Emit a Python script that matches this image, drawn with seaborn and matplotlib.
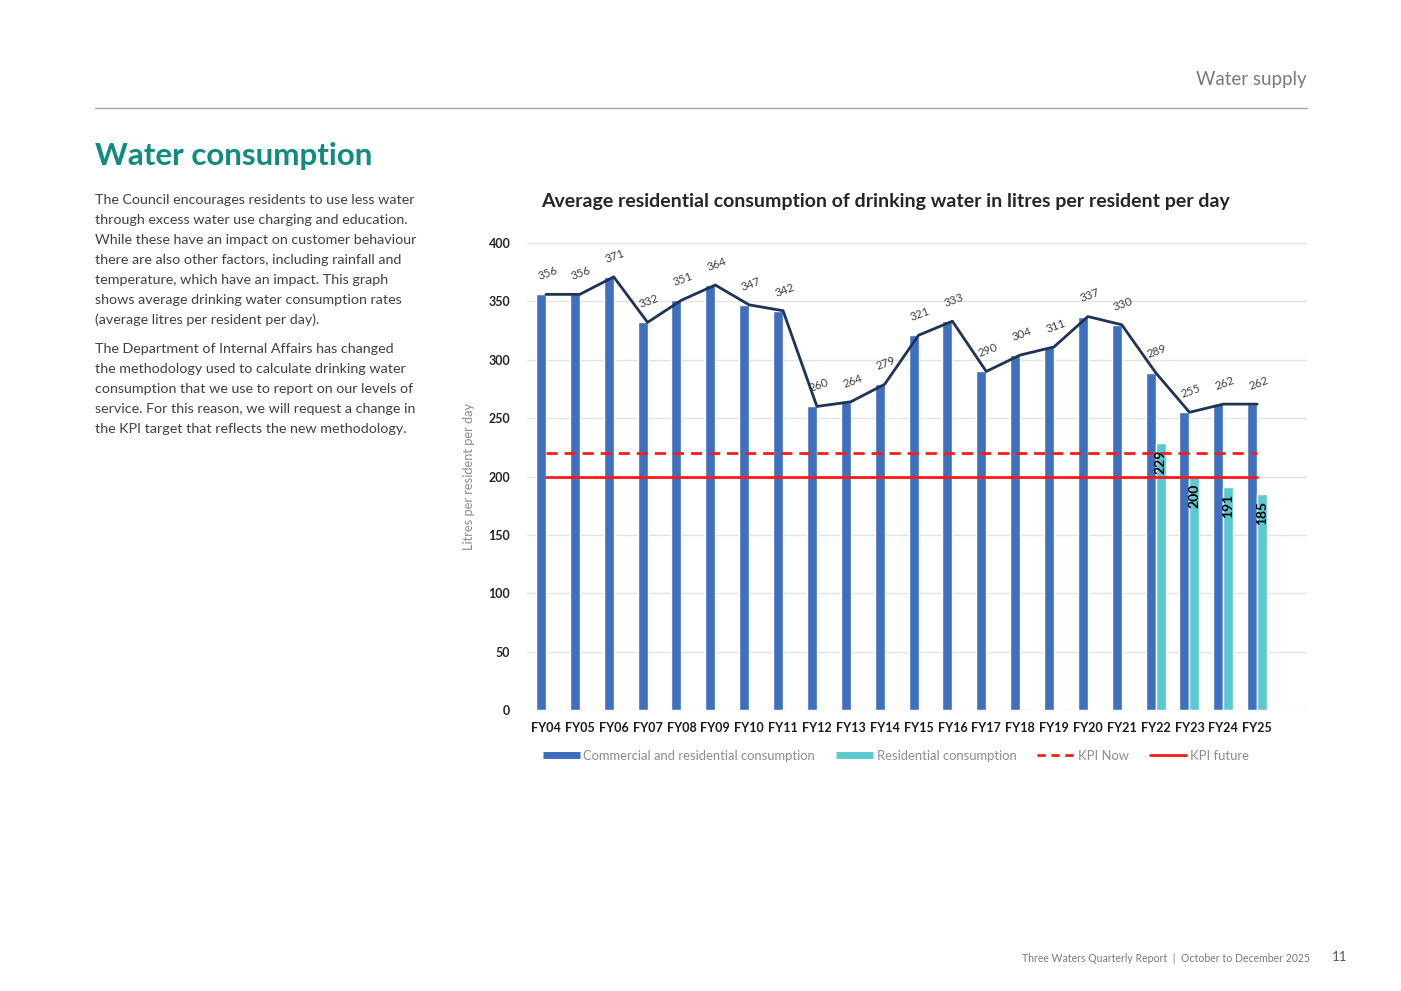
import matplotlib
matplotlib.use("Agg")
import matplotlib.pyplot as plt
from matplotlib.lines import Line2D
import seaborn as sns
import pandas as pd
import numpy as np

# ---------------- data ----------------
years = ["FY04", "FY05", "FY06", "FY07", "FY08", "FY09", "FY10", "FY11", "FY12", "FY13", "FY14",
         "FY15", "FY16", "FY17", "FY18", "FY19", "FY20", "FY21", "FY22", "FY23", "FY24", "FY25"]
commercial_residential = [356, 356, 371, 332, 351, 364, 347, 342, 260, 264, 279,
                          321, 333, 290, 304, 311, 337, 330, 289, 255, 262, 262]
residential_years = ["FY22", "FY23", "FY24", "FY25"]
residential = [229, 200, 191, 185]
kpi_now = 220
kpi_future = 200
y_ticks = [0, 50, 100, 150, 200, 250, 300, 350, 400]

series_cr = "Commercial and residential consumption"
series_res = "Residential consumption"

rows = [(y, series_cr, v) for y, v in zip(years, commercial_residential)]
rows += [(y, series_res, v) for y, v in zip(residential_years, residential)]
df = pd.DataFrame(rows, columns=["FY", "series", "value"])

# ---------------- style ----------------
sns.set_theme(style="white")
FONT = ["Lato", "DejaVu Sans"]
plt.rcParams["font.family"] = FONT

BLUE = "#3F6FBF"
CYAN = "#5BC9D0"
NAVY = "#1F3357"
RED = "#FF1A1A"
TEAL = "#0E8C80"
GREY_TXT = "#404040"

fig = plt.figure(figsize=(14.01, 9.91), dpi=100)
W, H = 1401, 991

def fx(px):
    return px / W

def fy(py):
    return 1 - py / H

# header
fig.text(fx(1307), fy(80), "Water supply", ha="right", va="center", fontsize=13.5,
         color="#7a7a7a")
fig.add_artist(Line2D([fx(95), fx(1307)], [fy(108), fy(108)], color="#a6a6a6", lw=1.0))

fig.text(fx(95), fy(156), "Water consumption", ha="left", va="center", fontsize=22.5,
         color=TEAL, fontweight="bold")

para1 = ["The Council encourages residents to use less water",
         "through excess water use charging and education.",
         "While these have an impact on customer behaviour",
         "there are also other factors, including rainfall and",
         "temperature, which have an impact. This graph",
         "shows average drinking water consumption rates",
         "(average litres per resident per day)."]
para2 = ["The Department of Internal Affairs has changed",
         "the methodology used to calculate drinking water",
         "consumption that we use to report on our levels of",
         "service. For this reason, we will request a change in",
         "the KPI target that reflects the new methodology."]
for i, line in enumerate(para1):
    fig.text(fx(95), fy(200 + 20 * i), line, ha="left", va="center", fontsize=10.3, color=GREY_TXT)
for i, line in enumerate(para2):
    fig.text(fx(95), fy(349 + 20 * i), line, ha="left", va="center", fontsize=10.3, color=GREY_TXT)

# footer
fig.text(fx(1310), fy(958), "Three Waters Quarterly Report  |  October to December 2025",
         ha="right", va="center", fontsize=7.6, color="#7a7a7a")
fig.text(fx(1340), fy(957), "11", ha="center", va="center", fontsize=9.5, color="#555555")

# chart title
fig.text(fx(885), fy(201), "Average residential consumption of drinking water in litres per resident per day",
         ha="center", va="center", fontsize=14, fontweight="bold", color="#262626")

# ---------------- chart ----------------
ax = fig.add_axes([fx(527), fy(710), fx(1307) - fx(527), fy(243) - fy(710)])

sns.barplot(data=df, x="FY", y="value", hue="series", order=years,
            hue_order=[series_cr, series_res], palette=[BLUE, CYAN],
            width=0.59, dodge=True, saturation=1, errorbar=None, legend=False, ax=ax)

xpos = np.arange(len(years))
ax.plot(xpos, commercial_residential, color=NAVY, lw=2.0, zorder=4)
ax.plot([xpos[0], xpos[-1]], [kpi_now, kpi_now], color=RED, lw=2.0, ls=(0, (4, 2.5)), zorder=5)
ax.plot([xpos[0], xpos[-1]], [kpi_future, kpi_future], color=RED, lw=2.0, zorder=5)

for x, v in zip(xpos, commercial_residential):
    ax.annotate(str(v), (x, v), xytext=(1, 15), textcoords="offset points",
                ha="center", va="center", rotation=20, fontsize=8.3, color=GREY_TXT, zorder=6)

res_offset = 0.59 / 4
for yname, v in zip(residential_years, residential):
    x = years.index(yname) + res_offset
    ax.annotate(str(v), (x, v), xytext=(0, -5), textcoords="offset points",
                ha="center", va="top", rotation=90, fontsize=10, fontweight="bold",
                color="black", zorder=6)

ax.set_xlim(-0.56, 22.47)
ax.set_ylim(0, 400)
ax.set_yticks(y_ticks)
ax.set_yticklabels([str(t) for t in y_ticks], fontsize=9, fontweight="bold", color="#262626")
for lab in ax.get_xticklabels():
    lab.set_fontsize(9)
    lab.set_fontweight("bold")
    lab.set_color("#1a1a1a")
ax.tick_params(axis="both", length=0)
ax.tick_params(axis="y", pad=12)
ax.tick_params(axis="x", pad=9)
ax.set_xlabel("")
ax.set_ylabel("Litres per resident per day", fontsize=9.3, color="#8c8c8c", labelpad=10)
ax.yaxis.grid(True, color="#e3e3e3", lw=1.0)
ax.set_axisbelow(True)
for s in ax.spines.values():
    s.set_visible(False)

# legend
handles = [
    Line2D([], [], color=BLUE, lw=5, solid_capstyle="butt"),
    Line2D([], [], color=CYAN, lw=5, solid_capstyle="butt"),
    Line2D([], [], color=RED, lw=2, ls=(0, (3, 2))),
    Line2D([], [], color=RED, lw=2),
]
labels = [series_cr, series_res, "KPI Now", "KPI future"]
fig.legend(handles, labels, loc="center", bbox_to_anchor=(fx(896), fy(756)), ncol=4,
           frameon=False, fontsize=9.4, labelcolor="#8c8c8c", handlelength=2.8,
           handletextpad=0.3, columnspacing=1.6)

fig.savefig("out.png", dpi=100)
